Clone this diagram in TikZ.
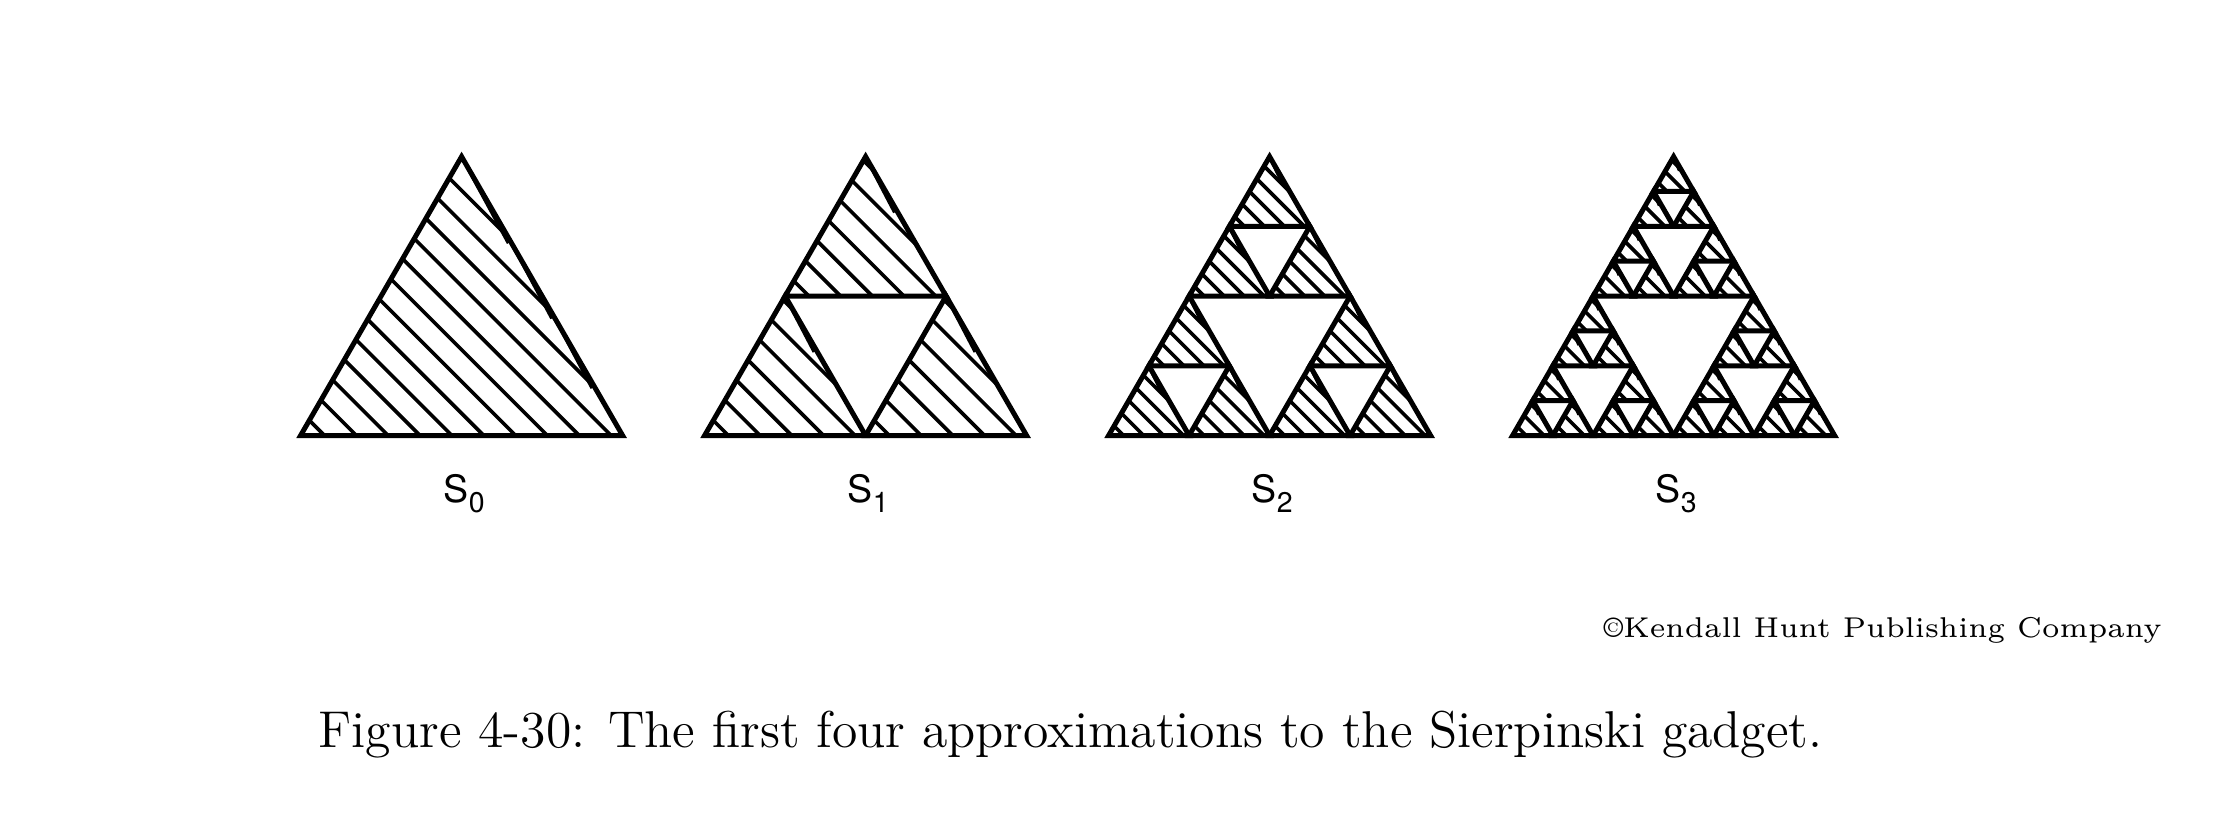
\documentclass[tikz,border=0pt]{standalone}
\usepackage{fontspec}
\newfontfamily\labfont{TeX Gyre Heros}
\usetikzlibrary{calc}
\tikzset{
  outl/.style={line width=0.5mm, line join=miter, miter limit=10},
  hatchln/.style={line width=0.36mm, line cap=butt},
  lab/.style={anchor=base west, inner sep=0pt, font=\labfont\fontsize{10.7}{12}\selectfont},
  txt/.style={anchor=base west, inner sep=0pt},
}
\newcommand\hsp{31.85}
\newcommand\hdel{3}
\newcommand\slist{0/0.4}
\newcommand\hatchtri[3]{%
 \begingroup
 \pgfmathsetmacro\hx{#1+#3/2}%
 \pgfmathsetmacro\hy{#2-0.8660254*#3}%
 \pgfmathsetmacro\uL{#1-#2}%
 \pgfmathtruncatemacro\nl{floor((1.3660254*#3-0.75*\hsp)/\hsp)}%
 \begin{scope}
 \clip (#1,#2) -- (#1+#3,#2) -- (\hx,\hy) -- cycle;
 \foreach \k in {0,...,\nl}{%
   \pgfmathsetmacro\uu{\uL+0.75*\hsp+\k*\hsp}%
   \draw[hatchln] (\uu+\hy-5,\hy-5) -- (\uu+#2+5,#2+5);
 }
 \end{scope}
 \coordinate (ta) at (\hx,\hy);
 \coordinate (tr) at (#1+#3,#2);
 \coordinate (tl) at (#1,#2);
 \foreach \ta/\tb in \slist {\draw[hatchln] ($(ta)!\ta!(tr)$) -- ($(ta)!\tb!(tr)+(-\hdel,0)$);}
 \draw[outl] (tl) -- (tr) -- (ta) -- cycle;
 \endgroup}
\newcommand\sierp[4]{%
 \ifnum#1=0 \hatchtri{#2}{#3}{#4}%
 \else
  \begingroup
  \pgfmathsetmacro\hs{#4/2}%
  \pgfmathsetmacro\xm{#2+#4/2}%
  \pgfmathsetmacro\xq{#2+#4/4}%
  \pgfmathsetmacro\ym{#3-0.4330127*#4}%
  \pgfmathtruncatemacro\lv{#1-1}%
  \edef\sierpnext{\noexpand\sierp{\lv}{#2}{#3}{\hs}\noexpand\sierp{\lv}{\xm}{#3}{\hs}\noexpand\sierp{\lv}{\xq}{\ym}{\hs}}%
  \sierpnext
  \endgroup
 \fi}
\begin{document}
\begin{tikzpicture}[x=0.1mm,y=-0.1mm]
\fill[white] (0,0) rectangle (2215,822);
\useasboundingbox (0,0) rectangle (2215,822);
% S0
\renewcommand\hsp{31.85}\renewcommand\hdel{3}\renewcommand\slist{0/0.31,0.32/0.58,0.59/0.83}
\sierp{0}{300.6}{435.5}{322}
% S1
\renewcommand\hsp{31.7}\renewcommand\hdel{3}\renewcommand\slist{0/0.4}
\sierp{1}{704.6}{435.5}{322}
% S2
\renewcommand\hsp{20}\renewcommand\hdel{2.5}
\sierp{2}{1108.6}{435.5}{322}
% S3
\renewcommand\hsp{18}\renewcommand\hdel{2}
\sierp{3}{1512.6}{435.5}{322}
% labels
\node[lab] (l0) at (443,502) {S\raisebox{-1mm}{\fontsize{8.1}{9}\selectfont 0}};
\node[lab] (l1) at (847,502) {S\raisebox{-1mm}{\fontsize{8.1}{9}\selectfont 1}};
\node[lab] (l2) at (1251,502) {S\raisebox{-1mm}{\fontsize{8.1}{9}\selectfont 2}};
\node[lab] (l3) at (1655,502) {S\raisebox{-1mm}{\fontsize{8.1}{9}\selectfont 3}};
\node[txt] (copy) at (1603,637) {\resizebox{55.8mm}{!}{\fontsize{6}{7}\selectfont\textcopyright Kendall Hunt Publishing Company}};
\node[txt] (cap) at (318,747) {\resizebox{150.4mm}{!}{\fontsize{13.3}{16}\selectfont Figure 4-30: The first four approximations to the Sierpinski gadget.}};
\end{tikzpicture}
\end{document}
